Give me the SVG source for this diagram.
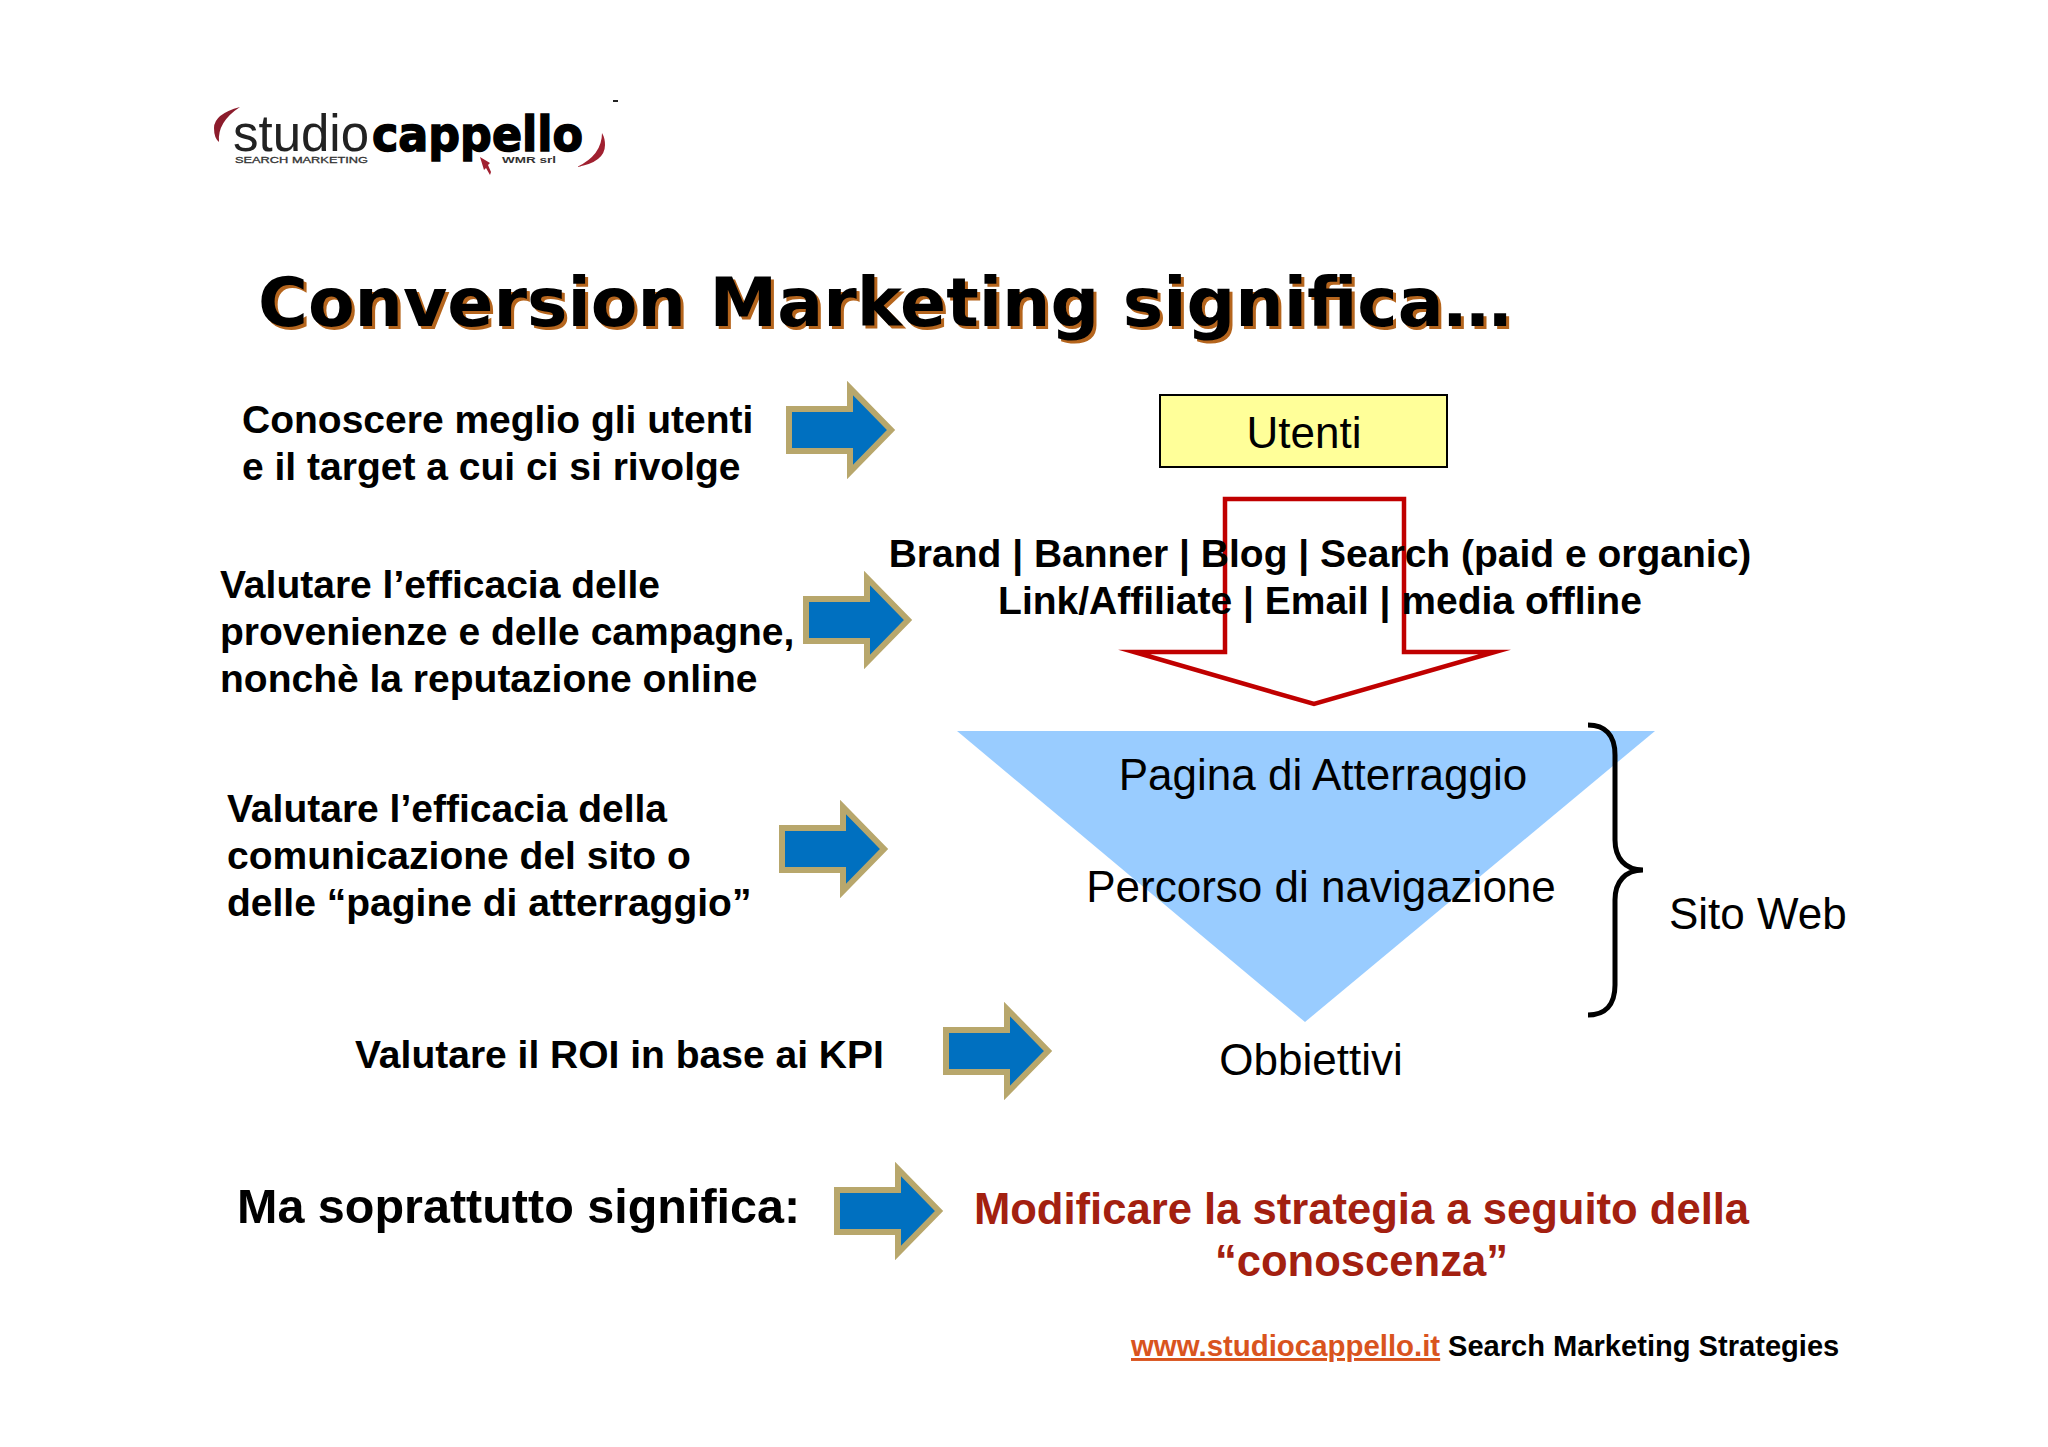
<svg xmlns="http://www.w3.org/2000/svg" width="2048" height="1447" viewBox="0 0 2048 1447">
<defs>
<style>
text{font-family:"Liberation Sans",Arial,sans-serif}
.b{font-weight:700;font-size:39px;fill:#000}
.c{font-size:44px;fill:#000}
.t{font-family:"DejaVu Sans",sans-serif;font-weight:700;font-size:68px}
.r{font-weight:700;font-size:43.6px;fill:#a32010}
.arr{fill:#0070c0;stroke:#b8a76c;stroke-width:6;stroke-linejoin:miter;stroke-miterlimit:10}
</style>
<path id="a" class="arr" d="M0 -21H61V-42L102 0L61 42V21H0Z"/>
</defs>
<rect width="2048" height="1447" fill="#fff"/>
<g id="logo">
<path d="M240 107Q214 114 214 128Q214 138 219 142Q217 122 240 107Z" fill="#8c1c2c"/>
<path d="M602 133Q602 155 577 167Q605 162 605 145Q605 138 602 133Z" fill="#a02030"/>
<text x="233" y="151" font-size="52" fill="#222" textLength="136" lengthAdjust="spacingAndGlyphs">studio</text>
<text x="372" y="151" font-size="48" font-weight="700" fill="#000" stroke="#000" stroke-width="1.5" textLength="211" lengthAdjust="spacingAndGlyphs" style="font-family:'DejaVu Sans',sans-serif">cappello</text>
<text x="235" y="163" font-size="9" fill="#333" stroke="#333" stroke-width=".3" textLength="133" lengthAdjust="spacingAndGlyphs">SEARCH MARKETING</text>
<text x="502" y="163" font-size="9" font-weight="700" fill="#333" textLength="54" lengthAdjust="spacingAndGlyphs">WMR srl</text>
<path d="M480 157L484 170L486 168L490 175L491 172L488 165L490 163Z" fill="#a02030"/>
<rect x="613" y="100" width="5" height="2" fill="#222"/>
</g>
<g id="title">
<text class="t" x="261" y="329" fill="#b5651d">Conversion Marketing significa…</text>
<text class="t" x="258" y="326" fill="#000">Conversion Marketing significa…</text>
</g>
<g id="left-1"><text class="b" x="242" y="433">Conoscere meglio gli utenti</text><text class="b" x="242" y="480">e il target a cui ci si rivolge</text></g>
<g id="left-2"><text class="b" x="220" y="598">Valutare l’efficacia delle</text><text class="b" x="220" y="645">provenienze e delle campagne,</text><text class="b" x="220" y="692">nonchè la reputazione online</text></g>
<g id="left-3"><text class="b" x="227" y="822">Valutare l’efficacia della</text><text class="b" x="227" y="869">comunicazione del sito o</text><text class="b" x="227" y="916">delle “pagine di atterraggio”</text></g>
<g id="left-4"><text class="b" x="355" y="1068">Valutare il ROI in base ai KPI</text></g>
<g id="left-5"><text x="237" y="1223" font-size="48.5" font-weight="700">Ma soprattutto significa:</text></g>
<g id="connectors">
<use href="#a" x="789" y="430"/>
<use href="#a" x="806" y="620"/>
<use href="#a" x="782" y="849"/>
<use href="#a" x="946" y="1051"/>
<use href="#a" x="837" y="1211"/>
</g>
<g id="utenti"><rect x="1160" y="395" width="287" height="72" fill="#ffff99" stroke="#000" stroke-width="2"/><text class="c" x="1304" y="448" text-anchor="middle">Utenti</text></g>
<g id="down-arrow"><path d="M1225 499H1404V652H1495L1314 704L1134 652H1225Z" fill="#fff" stroke="#c00000" stroke-width="4.5" stroke-miterlimit="10"/></g>
<g id="channels"><text class="b" x="1320" y="567" text-anchor="middle">Brand | Banner | Blog | Search (paid e organic)</text><text class="b" x="1320" y="614" text-anchor="middle">Link/Affiliate | Email | media offline</text></g>
<g id="funnel"><path d="M957 731H1655L1305 1022Z" fill="#99ccff"/>
<text class="c" x="1323" y="790" text-anchor="middle">Pagina di Atterraggio</text>
<text class="c" x="1321" y="902" text-anchor="middle">Percorso di navigazione</text>
<text class="c" x="1311" y="1075" text-anchor="middle">Obbiettivi</text></g>
<g id="brace"><path d="M1588 725C1605 725 1615 735 1615 755V840C1615 858 1625 870 1643 870C1625 870 1615 882 1615 900V985C1615 1005 1605 1015 1588 1015" fill="none" stroke="#000" stroke-width="5"/></g>
<g id="sito"><text class="c" x="1669" y="929">Sito Web</text></g>
<g id="strategy"><text class="r" x="1361.5" y="1224" text-anchor="middle">Modificare la strategia a seguito della</text><text class="r" x="1361.5" y="1276" text-anchor="middle">“conoscenza”</text></g>
<g id="footer"><text x="1131" y="1356" font-size="29.4" font-weight="700" fill="#d9541e" text-decoration="underline">www.studiocappello.it</text><text x="1448" y="1356" font-size="29.1" font-weight="700">Search Marketing Strategies</text></g>
</svg>
